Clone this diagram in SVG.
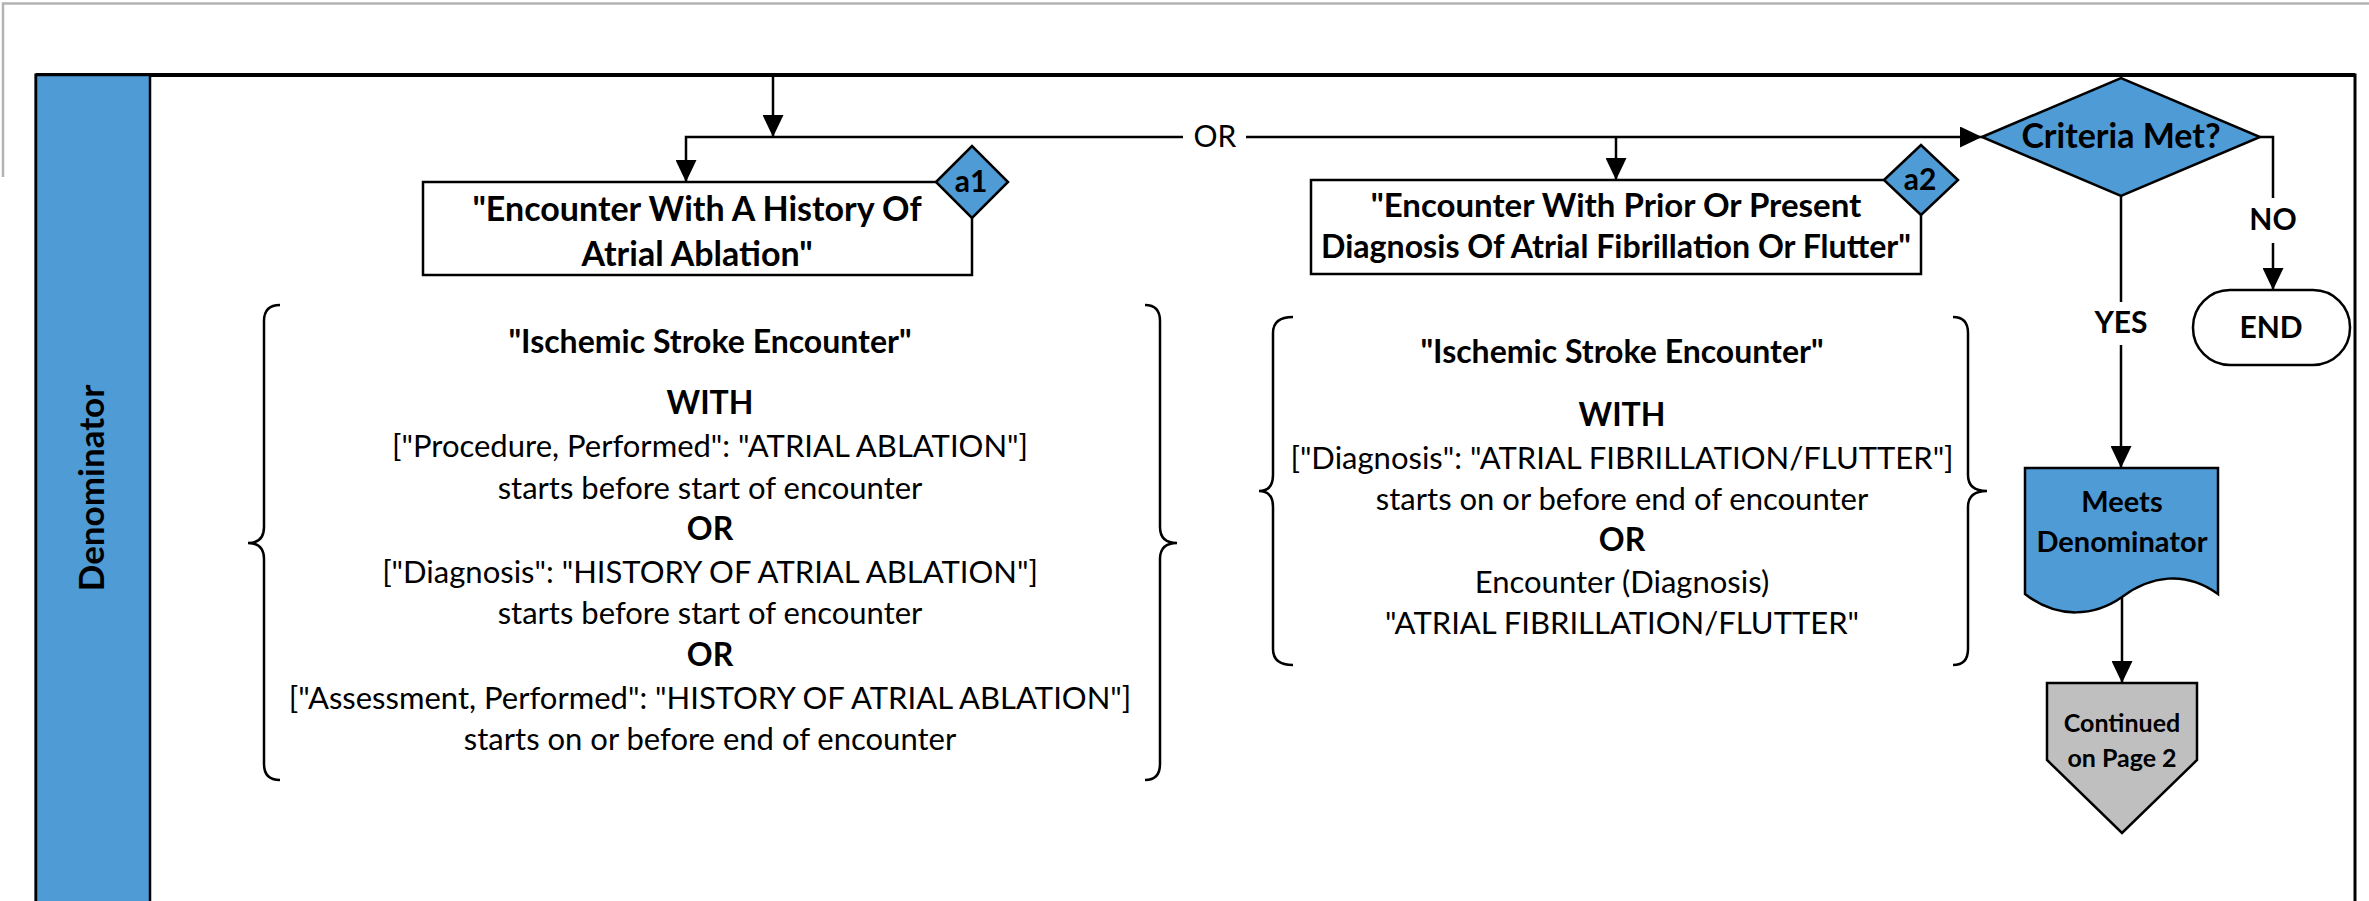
<svg xmlns="http://www.w3.org/2000/svg" width="2369" height="901" viewBox="0 0 2369 901">
<defs>
<marker id="arr" markerUnits="userSpaceOnUse" markerWidth="22" markerHeight="21" refX="22" refY="10.5" orient="auto">
<path d="M0,0 L22,10.5 L0,21 Z" fill="#000"/>
</marker>
<style>
.ln{fill:none;stroke:#000;stroke-width:2.5}
.box{fill:#fff;stroke:#000;stroke-width:2.5}
.blue{fill:#4E9BD6;stroke:#000;stroke-width:2.5}
.gray{fill:#BFBFBF;stroke:#000;stroke-width:2.5}
.t{font-family:Lato,"Liberation Sans",sans-serif;fill:#000;text-anchor:middle}
.b{font-weight:bold}
.body{font-size:31px}
.hd{font-size:34px;font-weight:bold}
.sub{font-size:32px;font-weight:bold}
.lbl{font-size:30px;font-weight:bold}
</style>
</defs>
<rect width="2369" height="901" fill="#fff"/>
<path d="M3,177 V3.5 H2369" fill="none" stroke="#b3b3b3" stroke-width="2.5"/>
<g id="pool">
<rect x="36" y="75" width="2319" height="840" fill="#fff" stroke="#000" stroke-width="3"/>
<line x1="36" y1="75" x2="2355" y2="75" stroke="#000" stroke-width="4"/>
</g>
<g id="lane-denominator">
<rect x="36" y="75" width="114" height="840" class="blue"/>
<text class="t hd" transform="translate(104,488) rotate(-90)" style="font-size:35px">Denominator</text>
</g>
<g id="connectors">
<path class="ln" d="M773,75 V137" marker-end="url(#arr)"/>
<path class="ln" d="M1183,137 H686 V182" marker-end="url(#arr)"/>
<path class="ln" d="M1246,137 H1982" marker-end="url(#arr)"/>
<path class="ln" d="M1616,137 V180" marker-end="url(#arr)"/>
<text class="t" x="1215" y="147" style="font-size:30px">OR</text>
<path class="ln" d="M2260,137 H2273 V198"/>
<path class="ln" d="M2273,243 V290" marker-end="url(#arr)"/>
<text class="t lbl" x="2273" y="230">NO</text>
<path class="ln" d="M2121,196 V302"/>
<path class="ln" d="M2121,345 V468" marker-end="url(#arr)"/>
<text class="t lbl" x="2121" y="333">YES</text>
<path class="ln" d="M2122,597 V683" marker-end="url(#arr)"/>
</g>
<g id="box-a1">
<rect x="423" y="182" width="549" height="93" class="box"/>
<text class="t hd" x="697" y="221">"Encounter With A History Of</text>
<text class="t hd" x="697" y="266">Atrial Ablation"</text>
<polygon points="936,182 972,146 1008,182 972,218" class="blue"/>
<text class="t lbl" x="971" y="192">a1</text>
</g>
<g id="box-a2">
<rect x="1311" y="180" width="610" height="94" class="box"/>
<text class="t hd" x="1616" y="217" style="font-size:33px">"Encounter With Prior Or Present</text>
<text class="t hd" x="1616" y="258" style="font-size:33px" textLength="590" lengthAdjust="spacingAndGlyphs">Diagnosis Of Atrial Fibrillation Or Flutter"</text>
<polygon points="1884,180 1921,145 1958,180 1921,215" class="blue"/>
<text class="t lbl" x="1920" y="190">a2</text>
</g>
<g id="criteria">
<polygon points="1982,137 2121,78 2260,137 2121,196" class="blue"/>
<text class="t hd" x="2121" y="148">Criteria Met?</text>
</g>
<g id="end">
<rect x="2193" y="290" width="157" height="75" rx="37" ry="37" class="box"/>
<text class="t lbl" x="2271" y="338">END</text>
</g>
<g id="meets-denominator">
<path d="M2025,468 H2218 V594 C2185,570 2150,576 2122,597 C2095,616 2058,620 2025,594 Z" class="blue"/>
<text class="t b" x="2122" y="512" style="font-size:29px">Meets</text>
<text class="t b" x="2122" y="552" style="font-size:29px">Denominator</text>
</g>
<g id="continued">
<path d="M2047,683 H2197 V760 L2122,833 L2047,760 Z" class="gray"/>
<text class="t b" x="2122" y="732" style="font-size:25px">Continued</text>
<text class="t b" x="2122" y="767" style="font-size:25px">on Page 2</text>
</g>
<g id="criteria-a1">
<path class="ln" d="M280,305 Q264,305 264,321 V527 Q264,543 248,543 Q264,543 264,559 V764 Q264,780 280,780"/>
<path class="ln" d="M1145,305 Q1160,305 1160,321 V527 Q1160,543 1177,543 Q1160,543 1160,559 V764 Q1160,780 1145,780"/>
<text class="t sub" x="710" y="353">"Ischemic Stroke Encounter"</text>
<text class="t sub" x="710" y="414">WITH</text>
<text class="t body" x="710" y="457">["Procedure, Performed": "ATRIAL ABLATION"]</text>
<text class="t body" x="710" y="499">starts before start of encounter</text>
<text class="t sub" x="710" y="540">OR</text>
<text class="t body" x="710" y="583">["Diagnosis": "HISTORY OF ATRIAL ABLATION"]</text>
<text class="t body" x="710" y="624">starts before start of encounter</text>
<text class="t sub" x="710" y="666">OR</text>
<text class="t body" x="710" y="709">["Assessment, Performed": "HISTORY OF ATRIAL ABLATION"]</text>
<text class="t body" x="710" y="750">starts on or before end of encounter</text>
</g>
<g id="criteria-a2">
<path class="ln" d="M1293,317 Q1273,317 1273,333 V475 Q1273,491 1259,491 Q1273,491 1273,507 V649 Q1273,665 1293,665"/>
<path class="ln" d="M1953,317 Q1968,317 1968,333 V475 Q1968,491 1987,491 Q1968,491 1968,507 V649 Q1968,665 1953,665"/>
<text class="t sub" x="1622" y="363">"Ischemic Stroke Encounter"</text>
<text class="t sub" x="1622" y="426">WITH</text>
<text class="t body" x="1622" y="469">["Diagnosis": "ATRIAL FIBRILLATION/FLUTTER"]</text>
<text class="t body" x="1622" y="510">starts on or before end of encounter</text>
<text class="t sub" x="1622" y="551">OR</text>
<text class="t body" x="1622" y="593">Encounter (Diagnosis)</text>
<text class="t body" x="1622" y="634">"ATRIAL FIBRILLATION/FLUTTER"</text>
</g>
</svg>
